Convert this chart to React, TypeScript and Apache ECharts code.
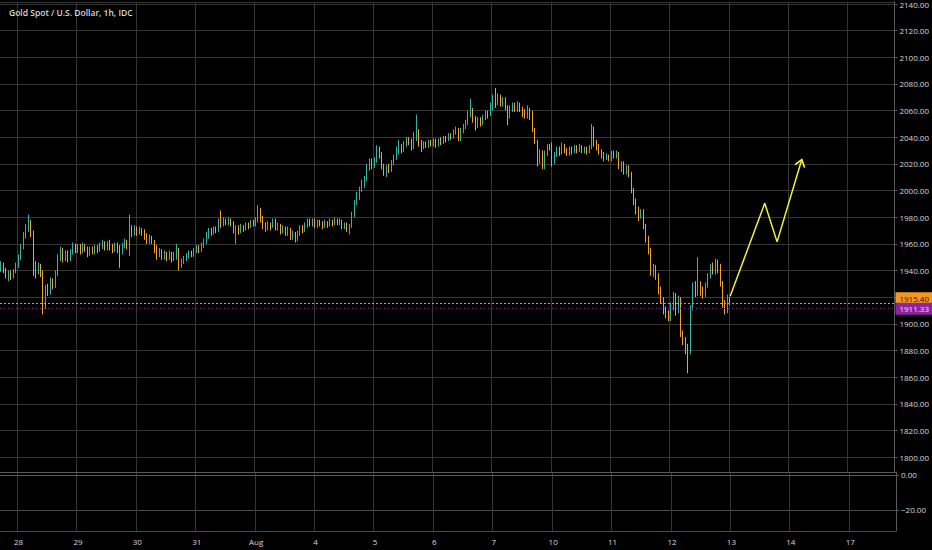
import React, { useEffect, useRef } from "react";
import * as echarts from "echarts";

const chartTitle = "Gold Spot / U.S. Dollar, 1h, IDC";
const dayLabels = ["28", "29", "30", "31", "Aug", "4", "5", "6", "7", "10", "11", "12", "13", "14", "17"];
const slotsBeforeFirstDay = 7;
const slotsPerDay = 24;
const totalSlots = 362;

const lastPrice = 1915.4;
const secondPrice = 1911.33;

// [open, close, low, high]
const jul27 = [
  [1941, 1945, 1939, 1947], [1945, 1940, 1938, 1946], [1940, 1936, 1934, 1942], [1936, 1938, 1932, 1940],
  [1938, 1935, 1933, 1940], [1935, 1940, 1934, 1941], [1940, 1944, 1938, 1946],
];
const jul28 = [
  [1944, 1950, 1942, 1952], [1950, 1958, 1948, 1960], [1958, 1967, 1956, 1969], [1967, 1972, 1964, 1975],
  [1972, 1975, 1969, 1982], [1975, 1968, 1965, 1978], [1968, 1944, 1936, 1970], [1944, 1940, 1934, 1947],
  [1940, 1943, 1937, 1946], [1943, 1937, 1935, 1945], [1937, 1914, 1907, 1940], [1914, 1927, 1911, 1929],
  [1927, 1924, 1921, 1930], [1924, 1932, 1922, 1935], [1932, 1929, 1926, 1934], [1929, 1938, 1927, 1940],
  [1938, 1950, 1936, 1952], [1950, 1955, 1947, 1958], [1955, 1950, 1946, 1957], [1950, 1953, 1947, 1955],
  [1953, 1949, 1946, 1955], [1949, 1954, 1947, 1956], [1954, 1958, 1952, 1961], [1958, 1956, 1953, 1960],
];
const jul29 = [
  [1956, 1958, 1953, 1960], [1958, 1955, 1952, 1960], [1955, 1958, 1953, 1961], [1958, 1956, 1954, 1960],
  [1956, 1953, 1950, 1958], [1953, 1956, 1951, 1958], [1956, 1954, 1952, 1958], [1954, 1957, 1952, 1959],
  [1957, 1955, 1953, 1959], [1955, 1958, 1954, 1961], [1958, 1960, 1956, 1963], [1960, 1957, 1955, 1962],
  [1957, 1960, 1955, 1962], [1960, 1958, 1955, 1963], [1958, 1956, 1953, 1960], [1956, 1959, 1954, 1961],
  [1959, 1956, 1953, 1961], [1956, 1954, 1942, 1959], [1954, 1959, 1952, 1961], [1959, 1961, 1957, 1964],
  [1961, 1959, 1956, 1963], [1959, 1972, 1951, 1982], [1972, 1969, 1965, 1974], [1969, 1971, 1966, 1974],
];
const jul30 = [
  [1971, 1969, 1966, 1973], [1969, 1971, 1967, 1973], [1971, 1968, 1966, 1972], [1968, 1966, 1963, 1971],
  [1966, 1962, 1960, 1968], [1962, 1965, 1960, 1967], [1965, 1962, 1960, 1966], [1962, 1957, 1953, 1963],
  [1957, 1953, 1948, 1959], [1953, 1955, 1950, 1957], [1955, 1951, 1948, 1956], [1951, 1953, 1948, 1955],
  [1953, 1950, 1947, 1954], [1950, 1953, 1948, 1955], [1953, 1949, 1946, 1954], [1949, 1952, 1947, 1954],
  [1952, 1955, 1948, 1960], [1955, 1944, 1940, 1957], [1944, 1947, 1942, 1949], [1947, 1949, 1945, 1951],
  [1949, 1951, 1947, 1953], [1951, 1953, 1949, 1955], [1953, 1952, 1950, 1955], [1952, 1955, 1950, 1957],
];
const jul31 = [
  [1955, 1957, 1953, 1959], [1957, 1955, 1953, 1959], [1955, 1959, 1954, 1961], [1959, 1962, 1957, 1964],
  [1962, 1967, 1960, 1969], [1967, 1970, 1964, 1972], [1970, 1968, 1966, 1972], [1968, 1971, 1967, 1973],
  [1971, 1970, 1968, 1973], [1970, 1977, 1969, 1979], [1977, 1975, 1972, 1985], [1975, 1978, 1973, 1980],
  [1978, 1976, 1974, 1979], [1976, 1978, 1974, 1980], [1978, 1975, 1973, 1979], [1975, 1970, 1968, 1977],
  [1970, 1972, 1960, 1974], [1972, 1969, 1967, 1974], [1969, 1973, 1968, 1975], [1973, 1971, 1969, 1974],
  [1971, 1974, 1970, 1976], [1974, 1973, 1971, 1976], [1973, 1976, 1972, 1978], [1976, 1975, 1973, 1978],
];
const aug03 = [
  [1975, 1978, 1973, 1980], [1978, 1985, 1976, 1989], [1985, 1979, 1976, 1987], [1979, 1974, 1971, 1981],
  [1974, 1972, 1969, 1976], [1972, 1975, 1970, 1977], [1975, 1973, 1970, 1976], [1973, 1977, 1972, 1979],
  [1977, 1972, 1970, 1979], [1972, 1974, 1970, 1976], [1974, 1970, 1967, 1975], [1970, 1972, 1968, 1974],
  [1972, 1969, 1966, 1973], [1969, 1971, 1966, 1973], [1971, 1966, 1963, 1972], [1966, 1968, 1963, 1970],
  [1968, 1964, 1961, 1969], [1964, 1968, 1962, 1970], [1968, 1972, 1966, 1974], [1972, 1970, 1968, 1974],
  [1970, 1974, 1969, 1976], [1974, 1977, 1972, 1979], [1977, 1975, 1973, 1979], [1975, 1977, 1973, 1979],
];
const aug04 = [
  [1977, 1974, 1972, 1979], [1974, 1977, 1972, 1978], [1977, 1975, 1973, 1978], [1975, 1973, 1971, 1977],
  [1973, 1976, 1972, 1978], [1976, 1974, 1972, 1977], [1974, 1977, 1973, 1979], [1977, 1975, 1973, 1978],
  [1975, 1978, 1974, 1980], [1978, 1976, 1974, 1979], [1976, 1977, 1974, 1979], [1977, 1973, 1971, 1978],
  [1973, 1975, 1971, 1976], [1975, 1971, 1969, 1976], [1971, 1973, 1967, 1975], [1973, 1982, 1972, 1984],
  [1982, 1991, 1980, 1993], [1991, 1996, 1989, 1999], [1996, 2001, 1993, 2003], [2001, 2005, 1999, 2008],
  [2005, 2009, 2002, 2011], [2009, 2018, 2007, 2020], [2018, 2021, 2015, 2024], [2021, 2019, 2016, 2024],
];
const aug05 = [
  [2019, 2023, 2017, 2025], [2023, 2031, 2021, 2034], [2031, 2027, 2024, 2033], [2027, 2018, 2016, 2029],
  [2018, 2014, 2011, 2020], [2014, 2017, 2010, 2019], [2017, 2016, 2013, 2020], [2016, 2021, 2014, 2023],
  [2021, 2025, 2019, 2027], [2025, 2030, 2023, 2033], [2030, 2032, 2027, 2038], [2032, 2030, 2028, 2035],
  [2030, 2035, 2029, 2037], [2035, 2038, 2033, 2040], [2038, 2036, 2034, 2040], [2036, 2032, 2030, 2039],
  [2032, 2041, 2031, 2044], [2041, 2044, 2037, 2057], [2044, 2036, 2033, 2046], [2036, 2032, 2029, 2038],
  [2032, 2035, 2031, 2037], [2035, 2034, 2032, 2037], [2034, 2036, 2032, 2038], [2036, 2035, 2033, 2038],
];
const aug06 = [
  [2035, 2037, 2033, 2039], [2037, 2034, 2032, 2039], [2034, 2037, 2033, 2039], [2037, 2036, 2034, 2040],
  [2036, 2039, 2035, 2041], [2039, 2038, 2036, 2041], [2038, 2041, 2037, 2043], [2041, 2040, 2038, 2043],
  [2040, 2044, 2039, 2046], [2044, 2046, 2042, 2048], [2046, 2039, 2037, 2047], [2039, 2045, 2037, 2047],
  [2045, 2048, 2043, 2050], [2048, 2051, 2046, 2053], [2051, 2057, 2049, 2060], [2057, 2060, 2055, 2069],
  [2060, 2054, 2051, 2062], [2054, 2050, 2045, 2056], [2050, 2053, 2047, 2055], [2053, 2050, 2048, 2055],
  [2050, 2055, 2049, 2057], [2055, 2058, 2053, 2060], [2058, 2057, 2054, 2060], [2057, 2063, 2056, 2066],
];
const aug07 = [
  [2063, 2068, 2060, 2072], [2068, 2066, 2062, 2077], [2066, 2070, 2064, 2073], [2070, 2066, 2063, 2072],
  [2066, 2068, 2063, 2070], [2068, 2063, 2060, 2070], [2063, 2056, 2049, 2064], [2056, 2062, 2054, 2064],
  [2062, 2064, 2059, 2066], [2064, 2061, 2059, 2066], [2061, 2065, 2059, 2067], [2065, 2062, 2059, 2066],
  [2062, 2058, 2055, 2063], [2058, 2056, 2054, 2061], [2056, 2061, 2054, 2064], [2061, 2058, 2053, 2062],
  [2058, 2046, 2044, 2060], [2046, 2037, 2035, 2047], [2037, 2022, 2018, 2038], [2022, 2029, 2020, 2031],
  [2029, 2018, 2016, 2030], [2018, 2028, 2016, 2030], [2028, 2033, 2026, 2035], [2033, 2032, 2030, 2035],
];
const aug10 = [
  [2032, 2022, 2018, 2036], [2022, 2027, 2020, 2029], [2027, 2031, 2025, 2033], [2031, 2029, 2026, 2033],
  [2029, 2034, 2027, 2036], [2034, 2030, 2028, 2035], [2030, 2028, 2026, 2032], [2028, 2031, 2026, 2033],
  [2031, 2029, 2027, 2033], [2029, 2032, 2028, 2034], [2032, 2030, 2028, 2034], [2030, 2033, 2029, 2035],
  [2033, 2030, 2028, 2034], [2030, 2032, 2028, 2033], [2032, 2029, 2027, 2033], [2029, 2032, 2028, 2034],
  [2032, 2046, 2031, 2050], [2046, 2036, 2033, 2048], [2036, 2033, 2030, 2038], [2033, 2029, 2027, 2035],
  [2029, 2027, 2024, 2031], [2027, 2025, 2022, 2029], [2025, 2026, 2023, 2028], [2026, 2024, 2022, 2027],
];
const aug11 = [
  [2024, 2028, 2022, 2030], [2028, 2026, 2024, 2030], [2026, 2028, 2024, 2030], [2028, 2018, 2016, 2029],
  [2018, 2020, 2014, 2022], [2020, 2015, 2012, 2022], [2015, 2017, 2012, 2019], [2017, 2012, 2010, 2019],
  [2012, 2000, 1998, 2014], [2000, 1992, 1989, 2002], [1992, 1986, 1982, 1994], [1986, 1982, 1977, 1988],
  [1982, 1984, 1979, 1986], [1984, 1973, 1971, 1986], [1973, 1964, 1961, 1975], [1964, 1955, 1952, 1966],
  [1955, 1939, 1936, 1957], [1939, 1942, 1935, 1945], [1942, 1936, 1933, 1944], [1936, 1926, 1922, 1938],
  [1926, 1918, 1915, 1928], [1918, 1911, 1907, 1920], [1911, 1908, 1904, 1913], [1908, 1905, 1902, 1910],
];
const aug12 = [
  [1905, 1913, 1902, 1916], [1913, 1921, 1910, 1924], [1921, 1914, 1906, 1923], [1914, 1918, 1908, 1921],
  [1918, 1893, 1890, 1920], [1893, 1887, 1884, 1895], [1887, 1882, 1877, 1890], [1882, 1879, 1863, 1885],
  [1879, 1912, 1877, 1914], [1912, 1928, 1910, 1931], [1928, 1924, 1920, 1932], [1924, 1930, 1921, 1950],
  [1930, 1925, 1921, 1932], [1925, 1922, 1919, 1928], [1922, 1929, 1920, 1931], [1929, 1936, 1927, 1938],
  [1936, 1943, 1934, 1945], [1943, 1939, 1937, 1946], [1939, 1945, 1937, 1949], [1945, 1942, 1938, 1948],
  [1942, 1930, 1928, 1945], [1930, 1915, 1912, 1932], [1915, 1909, 1907, 1918], [1909, 1919, 1908, 1922],
];
const aug13 = [[1919, 1915.4, 1914, 1920]];

// hand-drawn projection (slot index, price)
const projection = [
  [295, 1920.6],
  [309, 1990.4],
  [314, 1961.5],
  [324, 2023.3],
];

const UP = "#35b3a2";
const DOWN = "#f5a326";
const ORANGE_LINE = "#f7961e";
const YELLOW = "#f2f23a";
const GRID_LINE = "#363636";
const AXIS_LINE = "#5a5a5a";
const TEXT = "#d6d8de";
const FONT = "Open Sans";

export default function App() {
  const ref = useRef<HTMLDivElement>(null);

  useEffect(() => {
    if (!ref.current) return;
    const chart = echarts.init(ref.current, undefined, { renderer: "svg" });

    const candles = [
      ...jul27, ...jul28, ...jul29, ...jul30, ...jul31, ...aug03, ...aug04,
      ...aug05, ...aug06, ...aug07, ...aug10, ...aug11, ...aug12, ...aug13,
    ];

    const categories: string[] = [];
    const labelOf: Record<string, string> = {};
    for (let i = 0; i < totalSlots; i++) {
      const id = "s" + i;
      categories.push(id);
      const k = i - slotsBeforeFirstDay;
      if (k >= 0 && k % slotsPerDay === 0) {
        const lab = dayLabels[k / slotsPerDay];
        if (lab !== undefined) labelOf[id] = lab;
      }
    }
    const isDayStart = (index: number) => {
      const k = index - slotsBeforeFirstDay;
      return k >= 0 && k % slotsPerDay === 0;
    };

    const priceFmt = (v: number) => v.toFixed(2);
    const lowerFmt = (v: number) => (v < 0 ? "\u2212" + Math.abs(v).toFixed(2) : v.toFixed(2));

    // arrow head orientation from the last segment (screen px per slot / per price unit)
    const slotPx = 896 / totalSlots;
    const pricePx = 472 / (2141.68 - 1788.785);
    const a = projection[projection.length - 2];
    const b = projection[projection.length - 1];
    const dx = (b[0] - a[0]) * slotPx;
    const dy = (b[1] - a[1]) * pricePx;
    const tilt = Math.atan2(dx, dy); // radians clockwise from vertical
    const headH = 7;
    const headOffset = [-(headH / 2) * Math.sin(tilt), (headH / 2) * Math.cos(tilt)];

    const option: any = {
      animation: false,
      backgroundColor: "#000000",
      textStyle: { fontFamily: FONT },
      title: {
        text: chartTitle,
        left: 4,
        top: 3,
        textStyle: { color: TEXT, fontSize: 8.5, fontWeight: 600, fontFamily: FONT },
      },
      grid: [
        { left: 0, right: 36, top: 0, bottom: 78 },
        { left: 0, right: 36, top: 472, bottom: 19 },
      ],
      xAxis: [
        {
          type: "category",
          gridIndex: 0,
          data: categories,
          boundaryGap: true,
          axisLine: { show: true, lineStyle: { color: AXIS_LINE, width: 1 } },
          axisTick: { show: false },
          axisLabel: { show: false },
          splitLine: { show: true, interval: (i: number) => isDayStart(i), lineStyle: { color: GRID_LINE, width: 1 } },
        },
        {
          type: "category",
          gridIndex: 1,
          data: categories,
          boundaryGap: true,
          axisLine: { show: true, lineStyle: { color: AXIS_LINE, width: 1 } },
          axisTick: { show: false },
          axisLabel: {
            show: true,
            interval: (i: number) => isDayStart(i),
            formatter: (v: string) => labelOf[v] || "",
            color: TEXT,
            fontSize: 8,
            fontFamily: FONT,
            margin: 6,
          },
          splitLine: { show: true, interval: (i: number) => isDayStart(i), lineStyle: { color: GRID_LINE, width: 1 } },
        },
      ],
      yAxis: [
        {
          type: "value",
          gridIndex: 0,
          position: "right",
          min: 1788.785,
          max: 2141.68,
          splitNumber: 18,
          minInterval: 20,
          maxInterval: 20,
          scale: true,
          axisLine: { show: true, lineStyle: { color: AXIS_LINE } },
          axisTick: { show: true, length: 3, lineStyle: { color: AXIS_LINE } },
          axisLabel: {
            show: true,
            showMinLabel: false,
            showMaxLabel: false,
            formatter: priceFmt,
            color: TEXT,
            fontSize: 8,
            fontFamily: FONT,
            margin: 5,
          },
          splitLine: { show: true, lineStyle: { color: GRID_LINE, width: 1 } },
        },
        {
          type: "value",
          gridIndex: 1,
          position: "right",
          min: -32,
          max: 1.714,
          splitNumber: 2,
          minInterval: 20,
          maxInterval: 20,
          axisLine: { show: true, lineStyle: { color: AXIS_LINE } },
          axisTick: { show: true, length: 3, lineStyle: { color: AXIS_LINE } },
          axisLabel: {
            show: true,
            showMinLabel: false,
            showMaxLabel: false,
            formatter: lowerFmt,
            color: TEXT,
            fontSize: 8,
            fontFamily: FONT,
            margin: 5,
          },
          splitLine: { show: true, lineStyle: { color: "#4a4a4a", width: 1 } },
        },
      ],
      series: [
        {
          type: "candlestick",
          xAxisIndex: 0,
          yAxisIndex: 0,
          data: candles,
          barWidth: 1,
          itemStyle: {
            color: UP,
            color0: DOWN,
            borderColor: UP,
            borderColor0: DOWN,
            borderWidth: 1,
          },
          markLine: {
            silent: true,
            symbol: ["none", "none"],
            animation: false,
            lineStyle: { color: ORANGE_LINE, type: [2, 2], width: 1, opacity: 1 },
            data: [
              {
                yAxis: lastPrice,
                lineStyle: { color: ORANGE_LINE, type: [2, 2], width: 1, opacity: 1 },
                label: {
                  show: true,
                  position: "end",
                  formatter: (p: any) => Number(p.value).toFixed(2),
                  backgroundColor: ORANGE_LINE,
                  color: "#151515",
                  padding: [2, 4, 1, 4],
                  fontSize: 8,
                  fontFamily: FONT,
                  distance: 1,
                  verticalAlign: "bottom",
                },
              },
              {
                yAxis: secondPrice,
                lineStyle: { color: "#8a2a9c", type: [1, 3], width: 1, opacity: 0.9 },
                label: {
                  show: true,
                  position: "end",
                  formatter: (p: any) => Number(p.value).toFixed(2),
                  backgroundColor: "#9c27b0",
                  color: "#ffffff",
                  padding: [2, 4, 2, 4],
                  fontSize: 8,
                  fontFamily: FONT,
                  distance: 1,
                },
              },
            ],
          },
          z: 2,
        },
        {
          type: "line",
          xAxisIndex: 0,
          yAxisIndex: 0,
          showSymbol: true,
          showAllSymbol: true,
          symbol: "circle",
          symbolSize: 0,
          lineStyle: { color: YELLOW, width: 1.5 },
          itemStyle: { color: "rgba(0,0,0,0)", borderColor: YELLOW, borderWidth: 1.5 },
          data: projection.map((p, i) =>
            i === projection.length - 1
              ? {
                  value: p,
                  symbol: "path://M0,8 L6,0 L12,8",
                  symbolSize: [10, headH],
                  symbolRotate: -(tilt * 180) / Math.PI,
                  symbolOffset: headOffset,
                  itemStyle: { color: "rgba(0,0,0,0)", borderColor: YELLOW, borderWidth: 1.5 },
                }
              : { value: p }
          ),
          z: 5,
        },
      ],
    };

    chart.setOption(option);
    return () => chart.dispose();
  }, []);

  return (
    <div
      ref={ref}
      style={{ position: "fixed", left: 0, top: 0, width: 932, height: 550, background: "#000" }}
    />
  );
}
